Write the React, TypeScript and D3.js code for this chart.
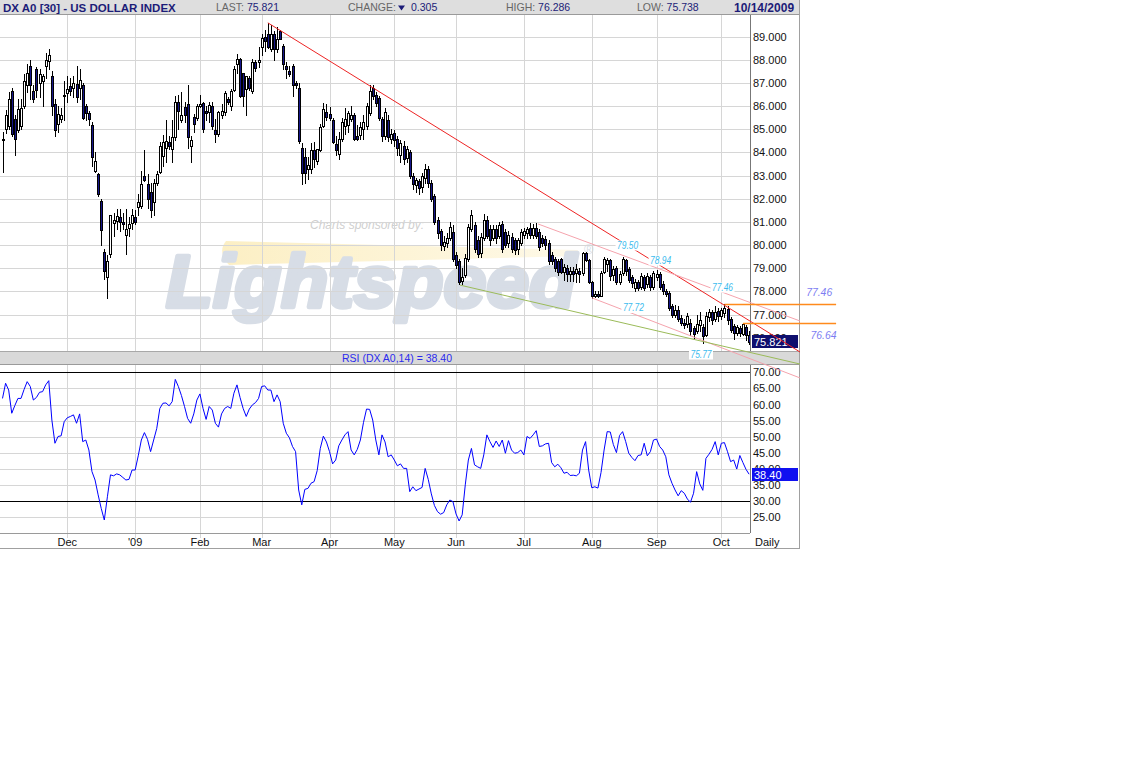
import React from 'react';
import * as d3 from 'd3';

// ---------- DATA ----------
const monthLabels = ['Dec', "'09", 'Feb', 'Mar', 'Apr', 'May', 'Jun', 'Jul', 'Aug', 'Sep', 'Oct'];
const monthStartIndex = [21, 43, 64, 84, 106, 127, 147, 169, 191, 212, 233];
const priceTicks = [76, 77, 78, 79, 80, 81, 82, 83, 84, 85, 86, 87, 88, 89];
const rsiTicks = [25, 30, 35, 40, 45, 50, 55, 60, 65, 70];

const opens = [
  84.55, 85.0, 85.15, 86.65, 85.45, 84.95, 85.15, 86.0, 86.9, 87.74,
  86.65, 87.6, 87.0, 87.1, 87.74, 87.95, 87.3, 86.1, 85.25, 85.45,
  86.45, 86.55, 86.85, 86.8, 86.95, 86.8, 86.9, 86.0, 85.7, 85.2,
  83.2, 83.05, 81.9, 79.7, 78.6, 79.6, 80.95, 81.05, 81.2, 80.98,
  80.45, 80.75, 80.95, 81.2, 81.65, 81.7, 83.0, 82.65, 82.3, 81.85,
  82.7, 83.15, 83.86, 84.2, 84.45, 84.15, 84.65, 86.2, 85.4, 85.95,
  86.1, 84.3, 85.55, 85.5, 86.0, 86.13, 85.8, 85.75, 86.0, 84.95,
  84.8, 85.6, 85.75, 86.3, 86.0, 86.7, 87.8, 88.05, 87.45, 86.73,
  87.2, 86.65, 87.9, 87.9, 88.55, 89.0, 89.1, 88.45, 89.1, 88.45,
  89.25, 88.6, 87.75, 87.5, 87.75, 87.0, 86.8, 84.2, 83.8, 83.3,
  83.3, 84.1, 83.65, 84.1, 85.15, 85.75, 85.65, 85.4, 84.35, 83.95,
  84.6, 85.15, 85.2, 85.45, 85.6, 84.7, 84.75, 85.0, 85.15, 85.7,
  86.8, 86.5, 86.35, 85.45, 84.7, 85.4, 84.6, 84.85, 84.6, 83.9,
  84.3, 83.75, 84.0, 83.0, 82.6, 82.75, 82.5, 82.9, 83.3, 82.7,
  82.1, 81.1, 80.6, 79.95, 80.1, 80.3, 80.55, 79.55, 79.3, 78.45,
  78.7, 79.4, 80.7, 80.85, 80.2, 79.65, 80.3, 81.1, 80.7, 80.3,
  80.7, 80.4, 80.9, 80.55, 80.1, 80.35, 80.2, 79.85, 80.1, 80.45,
  80.5, 80.75, 80.45, 80.75, 80.55, 80.3, 80.25, 80.1, 79.55, 79.4,
  79.3, 79.4, 78.85, 79.0, 78.75, 78.9, 78.8, 78.9, 78.8, 79.65,
  79.35, 78.4, 77.8, 77.9, 77.8, 78.85, 79.2, 79.35, 78.7, 79.0,
  78.4, 78.8, 79.35, 78.95, 78.6, 78.15, 78.4, 78.2, 78.6, 78.3,
  78.6, 78.2, 78.6, 78.75, 78.3, 78.0, 77.95, 77.35, 77.0, 77.2,
  76.85, 76.65, 76.6, 76.65, 76.4, 76.3, 76.55, 76.45, 76.1, 76.9,
  77.1, 76.8, 77.15, 76.95, 77.05, 77.25, 76.8, 76.5, 76.2, 76.4,
  76.15, 76.45, 76.1,
];

const highs = [
  84.9, 85.85, 86.6, 86.8, 85.6, 86.3, 86.3, 87.4, 87.8, 88.0,
  86.9, 87.7, 87.6, 87.4, 88.3, 88.45, 87.5, 86.3, 86.0, 85.9,
  87.1, 87.3, 87.2, 87.3, 87.75, 87.6, 87.0, 86.1, 85.8, 85.3,
  84.0, 83.1, 82.0, 79.85, 79.55, 81.3, 81.4, 81.55, 81.55, 81.4,
  81.55, 81.2, 81.55, 81.5, 82.2, 83.2, 84.1, 83.05, 82.7, 82.85,
  83.2, 84.45, 84.75, 85.4, 84.7, 85.4, 86.45, 86.5, 86.6, 86.2,
  86.9, 84.7, 85.65, 86.1, 86.5, 86.2, 86.0, 86.2, 86.2, 85.45,
  85.8, 86.1, 86.65, 86.4, 86.75, 87.75, 88.25, 88.1, 87.45, 87.3,
  87.3, 88.05, 88.0, 88.55, 89.1, 89.3, 89.6, 89.5, 89.25, 89.4,
  89.3, 88.7, 87.9, 87.75, 87.8, 87.1, 87.0, 84.4, 84.2, 83.8,
  84.4, 84.45, 84.15, 85.25, 86.15, 86.1, 85.95, 85.5, 84.7, 84.9,
  85.5, 85.9, 85.8, 86.0, 85.7, 85.2, 85.3, 85.6, 86.15, 86.9,
  86.9, 86.6, 86.45, 85.55, 85.9, 85.6, 85.0, 84.95, 84.7, 84.55,
  84.5, 84.3, 84.1, 83.1, 82.9, 82.85, 83.1, 83.5, 83.4, 82.8,
  82.2, 81.2, 80.7, 80.4, 80.5, 81.0, 80.85, 79.7, 79.4, 79.0,
  79.6, 80.9, 81.5, 81.0, 80.4, 80.5, 81.35, 81.25, 80.85, 80.85,
  80.85, 81.0, 81.05, 80.7, 80.6, 80.5, 80.3, 80.3, 80.7, 80.75,
  80.8, 80.95, 80.9, 80.95, 80.7, 80.45, 80.4, 80.2, 79.7, 79.5,
  79.4, 79.45, 79.2, 79.15, 79.05, 79.05, 79.2, 79.0, 79.72, 79.7,
  79.4, 78.45, 78.0, 78.0, 78.9, 79.5, 79.45, 79.4, 79.1, 79.1,
  78.9, 79.5, 79.4, 79.05, 78.7, 78.55, 78.5, 78.8, 78.7, 78.8,
  78.7, 78.9, 78.94, 78.85, 78.45, 78.1, 78.0, 77.45, 77.4, 77.35,
  77.0, 76.8, 77.05, 76.8, 76.5, 77.0, 77.1, 76.6, 77.1, 77.25,
  77.2, 77.35, 77.3, 77.3, 77.46, 77.35, 76.9, 76.6, 76.55, 76.5,
  76.64, 76.55, 76.286,
];

const lows = [
  83.15, 84.85, 85.0, 84.7, 83.9, 84.9, 85.0, 85.9, 86.6, 86.3,
  86.2, 86.4, 86.4, 86.0, 87.2, 87.6, 85.6, 84.7, 84.9, 85.3,
  85.4, 86.2, 86.5, 86.4, 86.2, 86.3, 85.45, 85.4, 85.2, 83.4,
  83.15, 82.1, 80.0, 78.55, 77.7, 79.5, 80.4, 80.7, 80.6, 80.7,
  79.6, 80.4, 80.7, 80.9, 81.3, 81.6, 82.75, 81.6, 81.2, 81.3,
  82.6, 83.1, 83.43, 83.6, 84.15, 83.6, 84.55, 85.0, 85.3, 85.3,
  84.2, 83.6, 84.9, 85.4, 85.95, 84.9, 85.4, 85.3, 85.0, 84.45,
  84.7, 85.5, 85.6, 86.1, 85.85, 86.65, 87.45, 86.4, 86.0, 85.6,
  86.7, 86.55, 87.5, 87.7, 88.2, 88.4, 88.5, 88.4, 88.0, 88.35,
  88.9, 87.6, 87.2, 87.3, 86.45, 86.8, 84.4, 82.65, 82.7, 82.85,
  83.1, 83.35, 83.5, 84.05, 85.1, 85.4, 85.4, 84.4, 83.9, 83.7,
  84.5, 84.8, 84.9, 85.35, 84.55, 84.55, 84.6, 84.6, 85.0, 85.6,
  86.3, 86.0, 85.4, 84.5, 84.6, 84.5, 84.4, 84.3, 83.9, 83.6,
  83.5, 83.6, 82.9, 82.4, 82.3, 82.2, 82.3, 82.7, 82.5, 81.9,
  80.9, 80.3, 79.8, 79.8, 79.9, 80.2, 79.3, 79.0, 78.3, 78.3,
  78.6, 79.3, 80.6, 79.7, 79.5, 79.5, 80.2, 80.3, 80.0, 80.2,
  80.1, 80.3, 79.7, 79.9, 79.9, 79.7, 79.6, 79.6, 80.0, 80.3,
  80.3, 80.3, 80.3, 80.3, 79.8, 79.95, 79.85, 79.2, 79.2, 78.9,
  78.7, 78.8, 78.5, 78.45, 78.45, 78.45, 78.4, 78.4, 78.7, 79.3,
  78.35, 77.72, 77.75, 77.75, 77.78, 78.8, 78.9, 78.5, 78.5, 78.3,
  78.3, 78.7, 78.7, 78.4, 78.2, 78.0, 78.05, 78.1, 78.05, 78.2,
  78.05, 78.1, 78.5, 78.1, 77.9, 77.8, 77.2, 76.9, 76.9, 76.7,
  76.55, 76.4, 76.45, 76.1, 75.95, 76.2, 76.3, 75.77, 76.05, 76.7,
  76.6, 76.7, 76.7, 76.8, 76.9, 76.6, 76.25, 75.95, 76.1, 76.05,
  76.1, 75.9, 75.738,
];

const closes = [
  84.6, 85.6, 86.3, 84.8, 84.6, 85.87, 85.9, 87.1, 87.45, 86.9,
  86.3, 86.7, 87.4, 87.3, 88.0, 88.2, 86.0, 84.95, 85.65, 85.6,
  86.5, 86.75, 86.65, 87.0, 86.4, 87.15, 85.5, 85.7, 85.45, 83.8,
  83.65, 82.2, 80.65, 78.9, 79.3, 81.28, 81.1, 81.25, 81.0, 80.9,
  80.7, 80.9, 81.3, 81.0, 81.85, 82.65, 82.8, 82.0, 81.5, 82.7,
  83.07, 84.3, 84.44, 84.5, 84.3, 84.65, 86.2, 85.8, 85.6, 85.6,
  84.65, 84.55, 85.25, 86.0, 86.1, 85.0, 85.7, 86.05, 85.15, 84.8,
  85.73, 85.8, 86.55, 86.2, 86.65, 87.6, 88.05, 86.45, 86.45, 87.3,
  86.8, 87.9, 87.65, 88.0, 88.95, 88.8, 88.55, 89.1, 88.45, 88.9,
  88.9, 87.8, 87.6, 87.4, 86.9, 86.9, 84.5, 83.1, 83.1, 83.45,
  84.1, 83.7, 84.15, 85.1, 85.87, 85.55, 85.5, 84.45, 84.1, 84.6,
  85.3, 85.45, 85.7, 85.6, 84.6, 84.6, 85.1, 85.3, 86.0, 86.65,
  86.45, 86.15, 85.5, 84.7, 85.75, 84.65, 84.8, 84.55, 84.2, 84.4,
  83.7, 84.15, 83.0, 82.65, 82.8, 82.45, 83.0, 83.3, 82.7, 82.0,
  81.0, 80.5, 80.0, 80.15, 80.3, 80.8, 79.4, 79.15, 78.4, 78.6,
  79.45, 80.8, 81.3, 79.85, 79.6, 80.35, 81.1, 80.4, 80.2, 80.7,
  80.3, 80.85, 79.85, 80.0, 80.45, 79.85, 79.8, 80.2, 80.55, 80.6,
  80.7, 80.45, 80.75, 80.4, 79.9, 80.1, 80.0, 79.3, 79.3, 79.0,
  78.85, 78.85, 79.05, 78.75, 78.9, 78.75, 78.95, 78.75, 79.65, 79.35,
  78.4, 77.8, 77.9, 77.8, 78.8, 79.4, 79.35, 78.65, 78.95, 78.4,
  78.75, 79.4, 78.9, 78.5, 78.35, 78.4, 78.15, 78.65, 78.15, 78.65,
  78.2, 78.8, 78.75, 78.2, 78.0, 77.9, 77.3, 77.0, 77.2, 76.8,
  76.65, 76.55, 76.95, 76.3, 76.15, 76.6, 76.75, 76.05, 76.95, 77.1,
  76.75, 77.1, 76.95, 77.2, 77.3, 76.75, 76.35, 76.2, 76.45, 76.2,
  76.6, 76.13, 75.821,
];

const rsiValues = [
  61.9, 66.6, 64.5, 57.3, 59.7, 61.9, 61.9, 64.7, 67.1, 65.6,
  61.4, 62.2, 63.8, 64.0, 66.1, 67.4, 55.2, 48.0, 50.1, 50.3,
  54.7, 55.9, 56.3, 56.8, 54.2, 57.1, 48.5, 49.0, 45.9, 39.2,
  36.6, 32.0, 27.8, 24.2, 31.4, 38.2, 37.9, 38.5, 38.2, 37.4,
  36.6, 36.8, 39.7, 39.7, 44.1, 49.0, 51.3, 49.2, 45.4, 49.0,
  52.6, 58.8, 60.4, 60.5, 59.6, 60.9, 67.8, 65.6, 62.8, 59.4,
  55.7, 54.2, 57.1, 61.4, 63.3, 58.8, 55.4, 59.4, 58.3, 54.2,
  53.0, 57.1, 58.8, 59.4, 58.8, 63.5, 66.1, 62.2, 58.8, 56.3,
  58.6, 59.9, 60.6, 61.9, 65.6, 65.8, 64.5, 64.5, 60.9, 63.0,
  60.9, 54.2, 51.1, 49.7, 47.0, 45.4, 33.5, 28.9, 33.7, 34.0,
  35.6, 36.1, 39.5, 46.4, 50.2, 48.4, 45.4, 41.6, 42.8, 47.2,
  49.0, 50.6, 51.6, 45.9, 44.4, 46.1, 49.0, 54.4, 58.6, 58.5,
  55.2, 49.0, 44.4, 50.6, 48.4, 43.8, 44.4, 42.8, 41.0, 41.6,
  40.2, 40.2, 33.0, 34.5, 33.3, 33.8, 34.3, 40.2, 36.8, 32.3,
  28.7, 26.8, 26.0, 26.5, 28.9, 30.4, 29.9, 26.1, 23.9, 25.8,
  35.1, 42.8, 46.4, 41.3, 40.7, 40.2, 44.4, 50.6, 48.5, 46.7,
  48.7, 47.0, 49.0, 44.9, 48.8, 45.9, 44.9, 45.1, 45.9, 44.4,
  50.1, 49.5, 50.6, 51.9, 47.0, 47.2, 47.8, 48.0, 42.0, 40.7,
  41.5, 40.4, 38.7, 39.0, 38.0, 38.1, 37.9, 38.7, 45.9, 48.5,
  39.7, 34.2, 34.5, 34.1, 38.9, 45.9, 51.6, 51.5, 47.6, 45.1,
  50.4, 51.6, 48.5, 44.9, 43.6, 42.6, 44.2, 44.4, 48.0, 44.1,
  45.4, 49.0, 49.3, 47.0, 45.9, 43.8, 38.2, 35.6, 33.5, 31.7,
  33.3, 32.5, 30.7, 29.7, 32.5, 39.2, 35.4, 33.4, 43.3, 44.6,
  46.1, 48.5, 44.4, 48.0, 48.2, 45.4, 42.3, 42.8, 40.0, 44.2,
  42.0, 39.9, 38.4,
];

// trend lines drawn on the chart: [startIndex, startPrice, endIndex, endPrice]
const redTrend = [86, 89.6, 258.5, 75.38];
const upperPinkTrend = [173.6, 80.91, 258.5, 76.72];
const lowerPinkTrend = [191, 77.72, 258.5, 74.26];
const greenTrend = [148.3, 78.27, 258.5, 74.86];
// horizontal resistance levels: [startIndex, endIndex, price]
const orangeLevels = [
  [234, 270.2, 77.46],
  [240, 270.2, 76.64],
];
// price annotations: text, anchor index, anchor price
const noteTexts = ['79.50', '78.94', '77.72', '77.46', '75.77'];
const noteIdx = [199.2, 209.9, 201.1, 229.98, 223.0];
const noteVal = [79.83, 79.18, 77.13, 78.01, 75.12];
const sideTexts = ['77.46', '76.64'];
const sideIdx = [260.5, 261.9];
const sideVal = [77.82, 75.94];

const lastPrice = 75.821;
const lastRsi = 38.4;

// ---------- CHART ----------
const FONT = '"Liberation Sans", Arial, sans-serif';
const NAVY = '#1c1c78';

export default function App() {
  const n = closes.length;
  const x = d3.scaleLinear().domain([0, n - 1]).range([2.5, 749.1]);
  const y = d3.scaleLinear().domain([76, 89]).range([337.65, 36.7]);
  const yr = d3.scaleLinear().domain([30, 70]).range([501.3, 372.3]);
  const px = (v: number) => Math.round(v) + 0.5;

  const rsiLine = d3
    .line<number>()
    .x((_, i) => x(i))
    .y((d) => yr(d))(rsiValues) as string;

  const seg = (t: number[], color: string, key: string) => (
    <line key={key} x1={x(t[0])} y1={y(t[1])} x2={x(t[2])} y2={y(t[3])} stroke={color} strokeWidth={1} />
  );

  return (
    <div style={{ position: 'absolute', left: 0, top: 0 }}>
      <svg width={1136} height={766} style={{ display: 'block', background: '#fff' }} fontFamily={FONT}>
        <defs>
          <linearGradient id="swoosh" x1="0" x2="1" y1="0" y2="0">
            <stop offset="0" stopColor="#fcefc4" />
            <stop offset="1" stopColor="#fef9e8" />
          </linearGradient>
        </defs>
        <rect x={0} y={0} width={1136} height={766} fill="#fff" />

        {/* header */}
        <rect x={0} y={0} width={800} height={14} fill="#dedede" />
        <line x1={0} y1={14.5} x2={800} y2={14.5} stroke="#9a9a9a" />
        <text x={3} y={11.5} fontSize={11.5} fontWeight="bold" fill={NAVY}>DX A0 [30] - US DOLLAR INDEX</text>
        <text x={216} y={11} fontSize={10.5} fill="#666">LAST: <tspan fill={NAVY}>75.821</tspan></text>
        <text x={348} y={11} fontSize={10.5} fill="#666">CHANGE:</text>
        <path d="M398,5.5 L405,5.5 L401.5,10.5 Z" fill={NAVY} />
        <text x={411} y={11} fontSize={10.5} fill={NAVY}>0.305</text>
        <text x={506} y={11} fontSize={10.5} fill="#666">HIGH: <tspan fill={NAVY}>76.286</tspan></text>
        <text x={637} y={11} fontSize={10.5} fill="#666">LOW: <tspan fill={NAVY}>75.738</tspan></text>
        <text x={734} y={11.5} fontSize={12} fontWeight="bold" fill={NAVY}>10/14/2009</text>

        {/* watermark */}
        <text x={310} y={229} fontSize={12} fontStyle="italic" fill="#cfcfcf">Charts sponsored by:</text>
        <path d="M226,241 Q217,252 229,265 L578,256 L578,250 Z" fill="url(#swoosh)" />
        <text x={166} y={307} fontSize={74} fontWeight="bold" fontStyle="italic" fill="#d7dde6"
          stroke="#d7dde6" strokeWidth={4.5} strokeLinejoin="round"
          textLength={410} lengthAdjust="spacingAndGlyphs">Lightspeed</text>
        <text x={584} y={254} fontSize={13} fill="#d7dde6">®</text>

        {/* price grid */}
        {priceTicks.map((t) => (
          <line key={'pg' + t} x1={0} x2={750} y1={px(y(t))} y2={px(y(t))} stroke="#d6d6d6" />
        ))}
        {monthStartIndex.map((m) => (
          <line key={'vg' + m} x1={px(x(m))} x2={px(x(m))} y1={15} y2={351} stroke="#d6d6d6" />
        ))}
        {/* RSI grid */}
        {rsiTicks.filter((t) => t !== 30 && t !== 70).map((t) => (
          <line key={'rg' + t} x1={0} x2={750} y1={px(yr(t))} y2={px(yr(t))} stroke="#d6d6d6" />
        ))}
        {monthStartIndex.map((m) => (
          <line key={'vr' + m} x1={px(x(m))} x2={px(x(m))} y1={365} y2={538} stroke="#d6d6d6" />
        ))}
        <line x1={0} x2={750} y1={px(yr(70))} y2={px(yr(70))} stroke="#000" />
        <line x1={0} x2={750} y1={px(yr(30))} y2={px(yr(30))} stroke="#000" />

        {/* candles */}
        {closes.map((c, i) => {
          const o = opens[i];
          const hi = Math.max(highs[i], o, c);
          const lo = Math.min(lows[i], o, c);
          const cx = Math.round(x(i));
          const top = Math.round(y(Math.max(o, c)));
          const bot = Math.round(y(Math.min(o, c)));
          const up = c >= o;
          return (
            <g key={'c' + i}>
              <line x1={cx + 0.5} x2={cx + 0.5} y1={Math.round(y(hi))} y2={Math.round(y(lo)) + 1} stroke="#000" />
              <rect x={cx - 0.5} y={top + 0.5} width={2} height={Math.max(1, bot - top)}
                fill={up ? '#fff' : '#16168a'} stroke="#000" strokeWidth={1} />
            </g>
          );
        })}

        {/* RSI line */}
        <path d={rsiLine} fill="none" stroke="#0000ff" strokeWidth={1} />

        {/* RSI header band */}
        <rect x={0} y={351.5} width={800} height={13} fill="#d9d9d9" stroke="none" />
        <line x1={0} x2={800} y1={351.5} y2={351.5} stroke="#a8a8a8" />
        <line x1={0} x2={800} y1={364.5} y2={364.5} stroke="#9a9a9a" />
        <text x={397} y={362} fontSize={10.5} fill="#2a2aee" textAnchor="middle">RSI (DX A0,14) = 38.40</text>

        {/* axes frame */}
        <line x1={750.5} x2={750.5} y1={15} y2={351} stroke="#777" />
        <line x1={750.5} x2={750.5} y1={365} y2={533} stroke="#777" />
        <line x1={0} x2={750} y1={533.5} y2={533.5} stroke="#9a9a9a" />
        <line x1={0} x2={800} y1={548.5} y2={548.5} stroke="#a0a0a0" />
        <line x1={799.5} x2={799.5} y1={0} y2={549} stroke="#a0a0a0" />

        {/* price axis labels */}
        {priceTicks.map((t) => (
          <text key={'pl' + t} x={753} y={y(t) + 4} fontSize={11} fill="#111">{t.toFixed(3)}</text>
        ))}
        <rect x={752} y={Math.round(y(lastPrice)) - 7} width={46} height={13} fill="#0f0f6e" />
        <text x={754} y={Math.round(y(lastPrice)) + 4} fontSize={11} fill="#fff">{lastPrice.toFixed(3)}</text>

        {/* RSI axis labels */}
        {rsiTicks.map((t) => (
          <text key={'rl' + t} x={753} y={yr(t) + 4} fontSize={11} fill="#111">{t.toFixed(2)}</text>
        ))}
        <rect x={752} y={Math.round(yr(lastRsi)) - 6} width={46} height={13} fill="#1010f0" />
        <text x={754} y={Math.round(yr(lastRsi)) + 5} fontSize={11} fill="#fff">{lastRsi.toFixed(2)}</text>

        {/* month labels */}
        {monthStartIndex.map((m, k) => (
          <text key={'ml' + m} x={x(m)} y={546} fontSize={11} fill="#111" textAnchor="middle">{monthLabels[k]}</text>
        ))}
        <text x={755} y={546} fontSize={11} fill="#111">Daily</text>

        {/* trend lines */}
        {seg(redTrend, '#ee2424', 'red')}
        {seg(upperPinkTrend, '#f5a3ad', 'pk1')}
        {seg(lowerPinkTrend, '#f5a3ad', 'pk2')}
        {seg(greenTrend, '#9bbb59', 'grn')}
        {orangeLevels.map((l, k) => (
          <line key={'or' + k} x1={x(l[0])} x2={x(l[1])} y1={px(y(l[2]))} y2={px(y(l[2]))} stroke="#ff8a1c" strokeWidth={1.3} />
        ))}

        {/* annotations */}
        {noteTexts.map((t, k) => (
          <g key={'nt' + k}>
            <rect x={x(noteIdx[k]) - 1.5} y={y(noteVal[k]) - 8.5} width={24} height={10} fill="#fff" />
            <text x={x(noteIdx[k])} y={y(noteVal[k])} fontSize={10} fontStyle="italic" fill="#3cbbee"
              textLength={21} lengthAdjust="spacingAndGlyphs">{t}</text>
          </g>
        ))}
        {sideTexts.map((t, k) => (
          <text key={'sd' + k} x={x(sideIdx[k])} y={y(sideVal[k])} fontSize={11.5} fontStyle="italic" fill="#7d7df2"
            textLength={26} lengthAdjust="spacingAndGlyphs">{t}</text>
        ))}
      </svg>
    </div>
  );
}
